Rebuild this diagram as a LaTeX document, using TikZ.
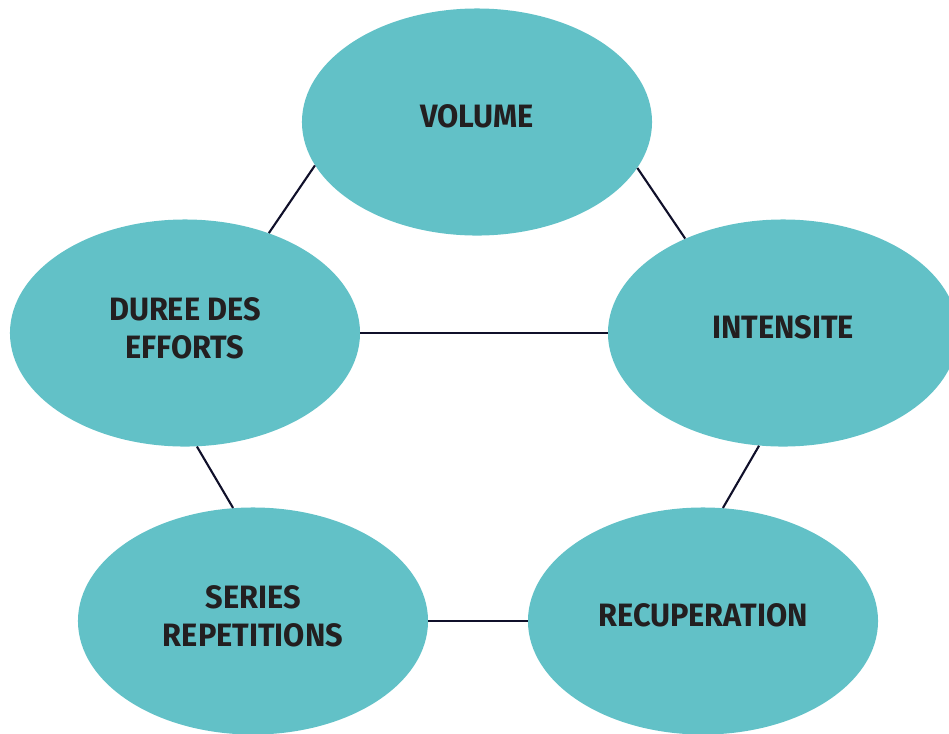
\documentclass[tikz,border=0pt]{standalone}
\usepackage{fontspec}
\setmainfont[FakeStretch=0.95]{Fira Sans}
\usetikzlibrary{shapes.geometric,positioning}
\definecolor{bubble}{HTML}{62C1C7}
\definecolor{ink}{HTML}{231F20}
\definecolor{edge}{HTML}{10102A}
\tikzset{
  blob/.style={
    shape = ellipse,
    fill = bubble,
    inner sep = 0pt,
    minimum width = 8.75cm,
    minimum height = 5.675cm,
    align = center,
    text = ink,
    text height = 0.6cm,
    text depth = 0.343cm,
    font = \bfseries\fontsize{23}{27}\selectfont
  },
  blob2/.style={
    blob,
    text height = 1.6cm,
    text depth = 0.343cm
  },
  link/.style={
    draw = edge,
    line width = 1.5pt
  }
}
\begin{document}
\begin{tikzpicture}[x=0.025cm,y=-0.025cm]
		  \clip (0,0) rectangle (949,733);
		  \useasboundingbox (0,0) rectangle (949,733);
		  \node[blob] (vol) at (477,122) {VOLUME};
		  \node[blob] (int) at (783,333) {INTENSITE};
		  \node[blob2] (dur) at (185,333) {DUREE DES\\EFFORTS};
		  \node[blob2] (ser) at (253,621) {SERIES\\REPETITIONS};
		  \node[blob] (rec) at (703,621) {RECUPERATION};
		  \foreach \a/\b in {vol.195/dur.50,vol.344/int.136,dur.east/int.west,dur.276/ser.100,int.258/rec.80,ser.east/rec.west}{
		    \draw[link] (\a) -- (\b);
		  }
		\end{tikzpicture}
\end{document}
